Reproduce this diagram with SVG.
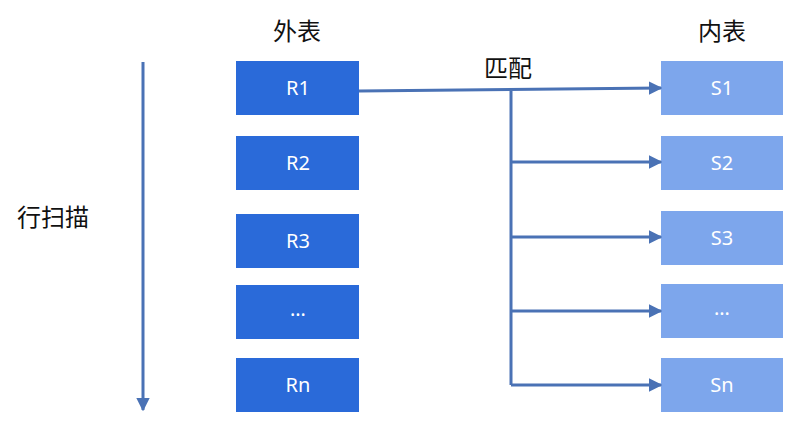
<svg xmlns="http://www.w3.org/2000/svg" width="802" height="429" viewBox="0 0 802 429">
<style>
.o{fill:#2a6ad9}.i{fill:#7da6ec}
.bt{font-family:"Noto Sans","Noto Sans CJK SC",sans-serif;font-size:20px;fill:#fff;text-anchor:middle;dominant-baseline:central}
.lt{font-family:"Noto Sans CJK SC",sans-serif;font-size:24px;fill:#111;text-anchor:middle;dominant-baseline:central}
.c{stroke:#4a72b5;stroke-width:3;fill:none}
</style>
<defs><marker id="a" viewBox="0 0 10 10" refX="9" refY="5" markerWidth="4.5" markerHeight="4.5" orient="auto"><path d="M0 0L10 5L0 10z" fill="#4a72b5"/></marker></defs>
<text class="lt" x="297" y="29">外表</text>
<text class="lt" x="722" y="29">内表</text>
<text class="lt" x="508" y="66">匹配</text>
<text class="lt" x="53" y="215">行扫描</text>
<g id="R1"><rect class="o" x="236" y="61" width="123" height="54"/><text class="bt" x="298" y="87">R1</text></g>
<g id="R2"><rect class="o" x="236" y="136" width="123" height="54"/><text class="bt" x="298" y="162">R2</text></g>
<g id="R3"><rect class="o" x="236" y="214" width="123" height="54"/><text class="bt" x="298" y="240">R3</text></g>
<g id="R4"><rect class="o" x="236" y="285" width="123" height="54"/><text class="bt" x="298" y="308">…</text></g>
<g id="Rn"><rect class="o" x="236" y="358" width="123" height="54"/><text class="bt" x="298" y="384">Rn</text></g>
<g id="S1"><rect class="i" x="661" y="61" width="122" height="54"/><text class="bt" x="722" y="87">S1</text></g>
<g id="S2"><rect class="i" x="661" y="136" width="122" height="54"/><text class="bt" x="722" y="162">S2</text></g>
<g id="S3"><rect class="i" x="661" y="211" width="122" height="54"/><text class="bt" x="722" y="237">S3</text></g>
<g id="S4"><rect class="i" x="661" y="284" width="122" height="54"/><text class="bt" x="722" y="307">…</text></g>
<g id="Sn"><rect class="i" x="661" y="358" width="122" height="54"/><text class="bt" x="722" y="384">Sn</text></g>
<g id="connectors" class="c">
<path d="M143 62V410" marker-end="url(#a)"/>
<path d="M359 91L661 88" marker-end="url(#a)"/>
<path d="M511 91V385"/>
<path d="M511 162H661" marker-end="url(#a)"/>
<path d="M511 237H661" marker-end="url(#a)"/>
<path d="M511 311H661" marker-end="url(#a)"/>
<path d="M511 385H661" marker-end="url(#a)"/>
</g>
</svg>
